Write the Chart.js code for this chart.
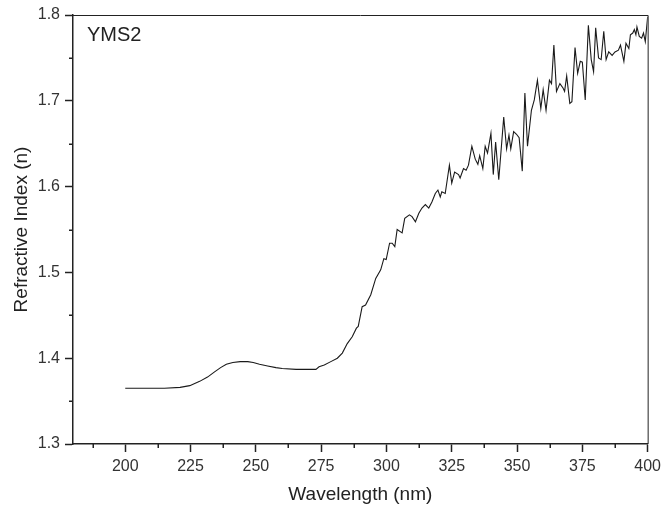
<!DOCTYPE html>
<html><head><meta charset="utf-8">
<script src="https://cdn.jsdelivr.net/npm/chart.js@4.4.1/dist/chart.umd.min.js"></script>
<style>html,body{margin:0;padding:0;background:#fff;} #wrap{width:666px;height:512px;}</style>
</head><body><div id="wrap"><canvas id="c" width="666" height="512"></canvas></div>
<script>
const wavelength = [200, 215, 221, 224.7, 228.5, 231.5, 234.2, 236.5, 238.7, 241.2, 244.0, 246.9, 249.0, 251.4, 254.5, 257.7, 260.1, 265.4, 269.2, 273.0, 274.2, 276.2, 278.7, 281.2, 283.1, 285.0, 286.9, 288.5, 289.2, 290.7, 292.0, 294.0, 295.9, 297.8, 299.0, 299.9, 301.2, 302.2, 303.2, 304.1, 306.0, 307.0, 308.8, 309.8, 311.1, 312.4, 313.6, 314.9, 316.2, 317.4, 318.7, 319.7, 320.6, 321.2, 322.5, 324.1, 325.0, 326.1, 327.6, 328.2, 329.5, 330.5, 331.4, 332.7, 334.0, 335.0, 335.7, 336.9, 337.8, 338.7, 340.0, 340.9, 341.8, 343.0, 344.9, 346.0, 346.9, 347.6, 348.7, 349.8, 350.8, 352.0, 353.0, 354.0, 355.5, 356.6, 357.8, 359.1, 360.0, 361.1, 362.4, 363.2, 364.1, 365.1, 366.4, 367.6, 368.2, 369.0, 370.2, 371.0, 372.2, 373.2, 374.2, 375.0, 376.1, 377.3, 378.4, 379.3, 380.1, 381.2, 382.2, 383.2, 384.1, 385.1, 386.4, 387.5, 388.8, 389.6, 390.9, 391.7, 392.8, 393.4, 394.3, 394.9, 395.5, 395.9, 396.8, 397.7, 398.4, 399.1, 400];
const refractiveIndex = [1.365, 1.365, 1.366, 1.368, 1.373, 1.378, 1.384, 1.389, 1.393, 1.395, 1.396, 1.396, 1.395, 1.393, 1.391, 1.389, 1.388, 1.387, 1.387, 1.387, 1.390, 1.392, 1.396, 1.400, 1.406, 1.417, 1.425, 1.435, 1.437, 1.460, 1.462, 1.474, 1.493, 1.503, 1.516, 1.515, 1.534, 1.534, 1.530, 1.550, 1.546, 1.563, 1.567, 1.565, 1.559, 1.569, 1.575, 1.579, 1.575, 1.582, 1.592, 1.596, 1.588, 1.594, 1.592, 1.625, 1.604, 1.617, 1.614, 1.610, 1.621, 1.619, 1.625, 1.647, 1.632, 1.626, 1.636, 1.621, 1.647, 1.639, 1.662, 1.614, 1.652, 1.608, 1.681, 1.644, 1.660, 1.644, 1.664, 1.661, 1.657, 1.618, 1.709, 1.647, 1.689, 1.701, 1.724, 1.691, 1.713, 1.689, 1.724, 1.720, 1.765, 1.711, 1.720, 1.715, 1.711, 1.729, 1.697, 1.699, 1.762, 1.732, 1.746, 1.745, 1.701, 1.788, 1.748, 1.734, 1.785, 1.750, 1.748, 1.781, 1.748, 1.757, 1.753, 1.757, 1.759, 1.765, 1.746, 1.767, 1.761, 1.777, 1.779, 1.783, 1.777, 1.786, 1.775, 1.773, 1.779, 1.769, 1.798];
const xTickValues = [200, 225, 250, 275, 300, 325, 350, 375, 400];
const yTickValues = [1.3, 1.4, 1.5, 1.6, 1.7, 1.8];
const xMinorTicks = [187.5, 212.5, 237.5, 262.5, 287.5, 312.5, 337.5, 362.5, 387.5];
const yMinorTicks = [1.35, 1.45, 1.55, 1.65, 1.75];
const sampleLabel = 'YMS2';
const xTitle = 'Wavelength (nm)';
const yTitle = 'Refractive Index (n)';

const FONT = '"Liberation Sans", Arial, sans-serif';
const AXIS = '#222';

const framePlugin = {
  id: 'frame',
  afterDraw(chart) {
    const {ctx, chartArea: a, scales: {x, y}} = chart;
    ctx.save();
    ctx.strokeStyle = AXIS;
    ctx.lineWidth = 1;
    ctx.beginPath();
    ctx.moveTo(a.left, a.top + 0.5);
    ctx.lineTo(a.right + 0.5, a.top + 0.5);
    ctx.lineTo(a.right + 0.5, a.bottom);
    ctx.stroke();
    ctx.lineWidth = 1.5;
    ctx.beginPath();
    xMinorTicks.forEach(v => { const px = Math.round(x.getPixelForValue(v)) + 0.25; ctx.moveTo(px, a.bottom); ctx.lineTo(px, a.bottom + 4); });
    yMinorTicks.forEach(v => { const py = Math.round(y.getPixelForValue(v)) + 0.25; ctx.moveTo(a.left, py); ctx.lineTo(a.left - 4, py); });
    ctx.stroke();
    ctx.fillStyle = AXIS;
    ctx.font = '20px ' + FONT;
    ctx.textBaseline = 'alphabetic';
    ctx.textAlign = 'left';
    ctx.fillText(sampleLabel, a.left + 14, a.top + 26);
    ctx.restore();
  }
};

new Chart(document.getElementById('c'), {
  type: 'line',
  data: {
    datasets: [{
      data: wavelength.map((w, i) => ({x: w, y: refractiveIndex[i]})),
      borderColor: '#1a1a1a',
      borderWidth: 1.1,
      pointRadius: 0,
      tension: 0,
      fill: false
    }]
  },
  options: {
    responsive: false,
    animation: false,
    devicePixelRatio: 1,
    layout: {padding: {top: 15, right: 16, left: 0, bottom: 0}},
    plugins: {legend: {display: false}, tooltip: {enabled: false}},
    scales: {
      x: {
        type: 'linear', min: 180, max: 400,
        afterBuildTicks: s => { s.ticks = xTickValues.map(v => ({value: v})); },
        afterFit: s => { s.height = 68; },
        ticks: {font: {family: FONT, size: 16}, color: '#333', padding: 5, maxRotation: 0, autoSkip: false, callback: v => String(v)},
        grid: {display: true, drawOnChartArea: false, drawTicks: true, tickLength: 8, tickWidth: 1.5, tickColor: AXIS},
        border: {display: true, color: AXIS, width: 1.5},
        title: {display: true, text: xTitle, font: {family: FONT, size: 19}, color: AXIS, padding: {top: 0, bottom: 6}}
      },
      y: {
        type: 'linear', min: 1.3, max: 1.8,
        afterBuildTicks: s => { s.ticks = yTickValues.map(v => ({value: v})); },
        afterFit: s => { s.width = 73; },
        ticks: {font: {family: FONT, size: 16}, color: '#333', padding: 5, autoSkip: false, callback: v => Number(v).toFixed(1)},
        grid: {display: true, drawOnChartArea: false, drawTicks: true, tickLength: 8, tickWidth: 1.5, tickColor: AXIS},
        border: {display: true, color: AXIS, width: 1.5},
        title: {display: true, text: yTitle, font: {family: FONT, size: 19}, color: AXIS, padding: {top: 10, bottom: 0}}
      }
    }
  },
  plugins: [framePlugin]
});
</script>
</body></html>
